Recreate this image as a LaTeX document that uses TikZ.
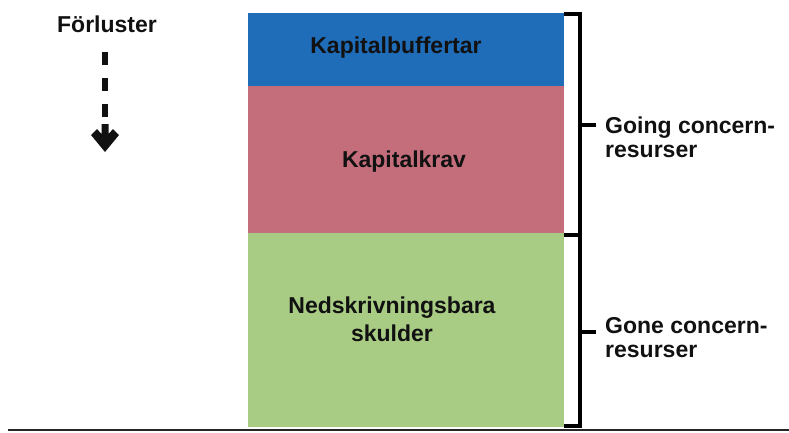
\documentclass[tikz,border=0pt]{standalone}
\usepackage{fontspec}
\setmainfont{Liberation Sans}
\definecolor{bufblue}{HTML}{1F6CB8}
\definecolor{kravpink}{HTML}{C46E7C}
\definecolor{skgreen}{HTML}{A9CC84}
\definecolor{txt}{HTML}{111111}
\tikzset{
  boxfill/.style={draw=none, rectangle, inner sep=0pt, minimum width=316pt, anchor=north west},
  lbl/.style={inner sep=0pt, anchor=base, text=txt, font=\bfseries\fontsize{23}{26}\selectfont},
  lblw/.style={lbl, anchor=base west},
  brk/.style={line width=4pt, black, line cap=rect, line join=miter},
}
\begin{document}
\begin{tikzpicture}[x=1pt,y=-1pt]
\useasboundingbox (0,0) rectangle (789,432);
% boxes
\node[boxfill, fill=bufblue, minimum height=73pt] (buf) at (248,13) {};
\node[boxfill, fill=kravpink, minimum height=147pt] (krav) at (248,86) {};
\node[boxfill, fill=skgreen, minimum height=194pt] (skuld) at (248,233) {};
% box texts
\node[lbl] (tbuf) at (396,53) {Kapitalbuffertar};
\node[lbl] (tkrav) at (404,167) {Kapitalkrav};
\node[lbl] (tsk1) at (392,313) {Nedskrivningsbara};
\node[lbl] (tsk2) at (392,341) {skulder};
% losses arrow
\node[lbl] (forl) at (107,32) {Förluster};
\coordinate (a1) at (105,52);
\coordinate (a3) at (105,118);
\coordinate (a2) at (105,152);
\draw[line width=6pt, txt, dash pattern=on 13pt off 13pt] (a1) -- (a3);
\fill[txt, shift={(a2)}] (-3.5,-28) -- (3.5,-28) -- (3.5,-18) -- (8,-23) -- (14,-17) -- (0,0) -- (-14,-17) -- (-8,-23) -- (-3.5,-18) -- cycle;
% brackets
\coordinate (bt) at (566,14);
\coordinate (bm) at (566,235);
\coordinate (bb) at (566,426);
\draw[brk] (bt) -- (580,14) -- (580,426) -- (bb);
\draw[brk] (bm) -- (580,235);
\coordinate (g1) at (580,125);
\coordinate (g2) at (594,125);
\coordinate (h1) at (580,332);
\coordinate (h2) at (594,332);
\draw[brk] (g1) -- (g2);
\draw[brk] (h1) -- (h2);
% bracket labels
\node[lblw] (going1) at (605,133) {Going concern-};
\node[lblw] (going2) at (605,157) {resurser};
\node[lblw] (gone1) at (605,333) {Gone concern-};
\node[lblw] (gone2) at (605,357) {resurser};
% base line
\coordinate (l1) at (8,430);
\coordinate (l2) at (789,430);
\draw[line width=2pt, black!85] (l1) -- (l2);
\end{tikzpicture}
\end{document}
